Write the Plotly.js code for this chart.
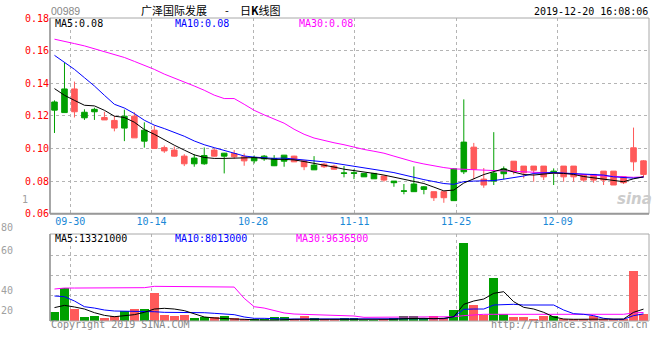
<!DOCTYPE html>
<html><head><meta charset="utf-8">
<script src="https://cdn.plot.ly/plotly-3.0.1.min.js"></script>
<style>html,body{margin:0;padding:0;background:#fff;}#chart{width:660px;height:360px;}</style>
</head><body><div id="chart"></div>
<script>
// ---- data ----
const dates = ['09-26','09-27','09-30','10-02','10-03','10-04','10-08','10-09','10-10','10-11',
'10-14','10-15','10-16','10-17','10-18','10-21','10-22','10-23','10-24','10-25',
'10-28','10-29','10-30','10-31','11-01','11-04','11-05','11-06','11-07','11-08',
'11-11','11-12','11-13','11-14','11-15','11-18','11-19','11-20','11-21','11-22',
'11-25','11-26','11-27','11-28','11-29','12-02','12-03','12-04','12-05','12-06',
'12-09','12-10','12-11','12-12','12-13','12-16','12-17','12-18','12-19','12-20'];
const tickDates = ['09-30','10-14','10-28','11-11','11-25','12-09'];
const open = [0.1285,0.1365,0.1225,0.1222,0.1240,0.1175,0.1125,0.1198,0.1065,0.1112,
0.1000,0.0985,0.0953,0.0906,0.0941,0.0957,0.0953,0.0971,0.0949,0.0924,
0.0945,0.0953,0.0939,0.0959,0.0918,0.0888,0.0898,0.0888,0.0873,0.0850,
0.0851,0.0847,0.0847,0.0806,0.0800,0.0740,0.0782,0.0765,0.0698,0.0698,
0.0875,0.1039,0.0872,0.0776,0.0849,0.0875,0.0861,0.0851,0.0867,0.0826,
0.0861,0.0826,0.0826,0.0806,0.0806,0.0806,0.0776,0.0790,0.0918,0.0841];
const high = [0.1295,0.1525,0.1410,0.1240,0.1250,0.1225,0.1200,0.1238,0.1222,0.1160,
0.1140,0.1018,0.1012,0.0965,0.0965,0.1006,0.1000,0.0973,0.0990,0.0969,
0.0957,0.0960,0.0959,0.0960,0.0955,0.0926,0.0953,0.0910,0.0900,0.0892,
0.0872,0.0848,0.0848,0.0831,0.0800,0.0782,0.0890,0.0770,0.0735,0.0735,
0.0877,0.1301,0.1034,0.0880,0.1100,0.0890,0.0922,0.0892,0.0892,0.0892,
0.0878,0.0892,0.0892,0.0837,0.0841,0.0861,0.0861,0.0826,0.1128,0.0928];
const low = [0.1095,0.1220,0.1190,0.1175,0.1175,0.1175,0.1105,0.1045,0.1065,0.1005,
0.1000,0.0973,0.0950,0.0892,0.0888,0.0900,0.0950,0.0847,0.0937,0.0894,
0.0908,0.0924,0.0892,0.0888,0.0918,0.0867,0.0869,0.0880,0.0870,0.0823,
0.0812,0.0826,0.0814,0.0796,0.0765,0.0719,0.0735,0.0719,0.0678,0.0667,
0.0680,0.0843,0.0810,0.0759,0.0776,0.0810,0.0841,0.0817,0.0796,0.0806,
0.0776,0.0796,0.0796,0.0796,0.0790,0.0776,0.0776,0.0782,0.0863,0.0823];
const close = [0.1235,0.1220,0.1365,0.1188,0.1225,0.1190,0.1172,0.1125,0.1198,0.1045,
0.1112,0.1005,0.0990,0.0953,0.0906,0.0906,0.0990,0.0953,0.0969,0.0949,
0.0924,0.0936,0.0894,0.0922,0.0953,0.0924,0.0869,0.0904,0.0892,0.0848,
0.0848,0.0826,0.0814,0.0831,0.0790,0.0738,0.0735,0.0749,0.0735,0.0735,
0.0680,0.0857,0.1008,0.0812,0.0800,0.0845,0.0922,0.0892,0.0892,0.0892,
0.0850,0.0892,0.0892,0.0837,0.0841,0.0861,0.0861,0.0826,0.1004,0.0924];
const ma5 = [0.1367,0.1326,0.1295,0.1265,0.1261,0.1234,0.1198,0.1190,0.1161,0.1116,
0.1087,0.1051,0.1020,0.0990,0.0961,0.0945,0.0939,0.0939,0.0941,0.0945,
0.0944,0.0939,0.0933,0.0933,0.0930,0.0920,0.0910,0.0900,0.0886,0.0873,
0.0865,0.0858,0.0847,0.0837,0.0824,0.0810,0.0797,0.0785,0.0763,0.0740,
0.0745,0.0788,0.0814,0.0840,0.0858,0.0875,0.0855,0.0840,0.0837,0.0843,
0.0849,0.0847,0.0841,0.0828,0.0821,0.0812,0.0806,0.0796,0.0814,0.0826];
const ma10 = [0.1571,0.1526,0.1485,0.1434,0.1383,0.1326,0.1271,0.1248,0.1214,0.1173,
0.1143,0.1122,0.1100,0.1075,0.1046,0.1023,0.1005,0.0988,0.0971,0.0954,
0.0947,0.0941,0.0939,0.0941,0.0936,0.0931,0.0925,0.0918,0.0910,0.0901,
0.0893,0.0884,0.0872,0.0862,0.0852,0.0837,0.0821,0.0809,0.0797,0.0785,
0.0780,0.0797,0.0800,0.0800,0.0803,0.0812,0.0820,0.0831,0.0847,0.0852,
0.0853,0.0849,0.0847,0.0841,0.0841,0.0837,0.0826,0.0824,0.0818,0.0824];
const ma30 = [0.1670,0.1658,0.1643,0.1629,0.1612,0.1595,0.1579,0.1558,0.1534,0.1511,
0.1485,0.1456,0.1433,0.1409,0.1383,0.1357,0.1327,0.1306,0.1306,0.1271,
0.1234,0.1206,0.1179,0.1155,0.1118,0.1087,0.1064,0.1048,0.1035,0.1023,
0.1008,0.0994,0.0983,0.0971,0.0953,0.0935,0.0918,0.0905,0.0893,0.0883,
0.0875,0.0872,0.0872,0.0870,0.0866,0.0864,0.0860,0.0856,0.0853,0.0851,
0.0849,0.0847,0.0845,0.0840,0.0837,0.0832,0.0828,0.0823,0.0823,0.0826];
// volume, millions of shares
const volume = [10.1,36.6,13.8,4.5,6.0,3.4,6.0,11.2,13.4,13.4,
31.3,6.7,6.0,6.7,3.4,4.5,4.5,5.6,3.4,1.9,
1.9,1.9,4.5,4.5,2.6,5.6,3.0,2.6,2.2,3.0,
3.0,1.1,1.5,1.9,3.0,5.6,5.6,3.0,5.6,3.7,
12.3,87.7,17.9,6.7,48.1,7.5,4.5,4.5,2.2,5.6,
5.6,2.6,2.6,1.9,5.6,2.6,1.9,1.9,56.3,7.5];
const vma5 = [15.0,17.5,15.7,13.4,9.3,6.3,4.8,5.6,7.1,9.7,
13.4,14.2,13.4,11.6,8.2,4.5,3.4,2.6,2.2,1.9,
1.1,0.8,0.8,1.5,1.9,1.9,1.9,1.5,1.1,1.1,
1.9,1.1,1.1,1.1,1.9,2.6,3.0,3.0,2.6,3.0,
4.8,18.7,22.4,24.6,31.0,32.8,21.6,15.3,13.4,9.7,
4.5,2.2,1.9,1.9,1.9,1.9,1.9,2.2,9.7,13.3];
const vma10 = [28.0,27.2,22.4,16.0,14.5,12.3,11.2,11.2,11.2,11.2,
10.4,9.7,9.7,9.7,9.7,9.3,8.6,8.2,7.1,4.5,
3.0,3.0,2.2,2.2,2.2,2.2,2.2,1.9,1.9,1.9,
1.9,1.9,1.9,1.9,2.2,2.2,2.6,2.6,2.6,2.6,
4.8,13.1,13.4,13.4,17.9,18.7,18.7,17.9,17.9,17.9,
17.9,12.3,8.2,7.5,6.0,3.0,1.9,1.9,6.0,8.0];
const vma30 = [35.8,36.9,36.9,36.9,36.9,36.9,36.9,36.9,37.3,37.3,
38.8,38.8,38.8,38.8,38.8,38.8,38.8,38.8,38.0,25.4,
16.0,14.5,11.6,9.0,7.8,7.5,7.1,6.7,6.3,6.3,
5.6,4.1,4.1,4.1,4.1,4.1,4.1,4.1,4.1,4.1,
4.8,6.0,7.1,7.5,7.5,7.5,7.5,7.5,7.5,7.5,
7.5,7.5,7.5,7.5,7.5,7.5,7.5,7.5,9.0,9.6];
const priceTicks = [0.06,0.08,0.10,0.12,0.14,0.16,0.18];
const volLabels = ['80','60','40','20'];

// ---- drawing ----
const RED = '#ff5a5a', GREEN = '#00a000', GRID = '#b4b4b4', BORDER = '#a8a8a8';
const MONO = 'DejaVu Sans Mono';
const idx = dates.map((d, i) => i);
const tickIdx = tickDates.map(d => dates.indexOf(d));
const tickPos = tickIdx.map(i => i * 60 / 59 - 0.45);
const volColors = idx.map(i => close[i] >= open[i] ? RED : GREEN);

const L = 50, R = 649, T = 18, B = 321;
const fx = px => (px - L) / (R - L);
const fy = py => (B - py) / (B - T);
const priceDom = [fy(213.7), 1];
const volDom = [0, fy(234)];

const traces = [
  {type:'candlestick', x: idx, open: open, high: high, low: low, close: close,
   xaxis:'x', yaxis:'y', whiskerwidth: 0, hoverinfo:'skip',
   increasing:{line:{color:RED, width:1}, fillcolor:RED},
   decreasing:{line:{color:GREEN, width:1}, fillcolor:GREEN}},
  {type:'scatter', mode:'lines', x: idx, y: ma30, xaxis:'x', yaxis:'y', line:{color:'#ff00ff', width:1}, hoverinfo:'skip'},
  {type:'scatter', mode:'lines', x: idx, y: ma10, xaxis:'x', yaxis:'y', line:{color:'#0000ff', width:1}, hoverinfo:'skip'},
  {type:'scatter', mode:'lines', x: idx, y: ma5, xaxis:'x', yaxis:'y', line:{color:'#000000', width:1}, hoverinfo:'skip'},
  {type:'bar', x: idx, y: volume, xaxis:'x2', yaxis:'y2', width: 0.9, marker:{color: volColors, line:{width:0}}, hoverinfo:'skip'},
  {type:'scatter', mode:'lines', x: idx, y: vma30, xaxis:'x2', yaxis:'y2', line:{color:'#ff00ff', width:1}, hoverinfo:'skip'},
  {type:'scatter', mode:'lines', x: idx, y: vma10, xaxis:'x2', yaxis:'y2', line:{color:'#0000ff', width:1}, hoverinfo:'skip'},
  {type:'scatter', mode:'lines', x: idx, y: vma5, xaxis:'x2', yaxis:'y2', line:{color:'#000000', width:1}, hoverinfo:'skip'}
];

function ann(text, px, py, color, size, xanchor, family) {
  return {text: text, x: fx(px), y: fy(py), xref:'paper', yref:'paper', showarrow:false,
    xanchor: xanchor || 'left', yanchor:'middle', borderpad:0,
    font:{family: family || MONO, size: size || 10, color: color || '#000'}};
}

const volLabelY = [227, 250.5, 290.3, 310.3];
const xr = [-0.45, 59.55];
const layout = {
  width: 660, height: 360,
  margin:{l:L, r:660 - R, t:T, b:360 - B, pad:0},
  paper_bgcolor:'#fff', plot_bgcolor:'#fff',
  showlegend:false, boxgap:0.2, bargap:0,
  xaxis:{domain:[0,1], anchor:'y', range:xr, type:'linear', rangeslider:{visible:false},
    tickmode:'array', tickvals: tickPos, ticktext: tickDates, ticks:'',
    tickfont:{family:MONO, size:10, color:'#1a88d6'},
    showgrid:true, gridcolor:GRID, griddash:'dot', gridwidth:1, zeroline:false, showline:false, fixedrange:true},
  yaxis:{domain:priceDom, anchor:'x', range:[0.06, 0.18], tickmode:'array', tickvals: priceTicks,
    ticktext: priceTicks.map(v => v.toFixed(2)), ticks:'',
    tickfont:{family:MONO, size:10, color:'#ff0000'},
    showgrid:true, gridcolor:GRID, griddash:'dot', gridwidth:1, zeroline:false, showline:false, fixedrange:true},
  xaxis2:{domain:[0,1], anchor:'y2', range:xr, type:'linear', tickmode:'array', tickvals: tickPos,
    showticklabels:false, ticks:'', showgrid:true, gridcolor:GRID, griddash:'dot', gridwidth:1,
    zeroline:false, showline:false, fixedrange:true},
  yaxis2:{domain:volDom, anchor:'x2', range:[0, 97.4], tickmode:'array', tickvals:[28.8, 51.2, 73.6],
    showticklabels:false, ticks:'', showgrid:true, gridcolor:GRID, griddash:'dot', gridwidth:1,
    zeroline:false, showline:false, fixedrange:true},
  shapes:[
    {type:'rect', xref:'paper', yref:'paper', x0:0, x1:1, y0:priceDom[0], y1:1, line:{color:BORDER, width:1}},
    {type:'line', xref:'paper', yref:'paper', x0:0, x1:1, y0:priceDom[0], y1:priceDom[0], line:{color:'#999', width:2}},
    {type:'line', xref:'paper', yref:'paper', x0:0, x1:0, y0:priceDom[0], y1:1, line:{color:'#999', width:1.5}},
    {type:'rect', xref:'paper', yref:'paper', x0:0, x1:1, y0:0, y1:volDom[1], line:{color:BORDER, width:1}},
    {type:'line', xref:'paper', yref:'paper', x0:0, x1:0, y0:0, y1:volDom[1], line:{color:'#999', width:1.5}}
  ],
  annotations:[
    ann('00989', 50, 11, '#888', 10.5, 'left', 'Liberation Sans'),
    ann('广泽国际发展', 140, 10.5, '#000', 11, 'left', 'Noto Sans CJK SC'),
    ann('-', 224, 10.5, '#000', 11, 'left', 'Noto Sans CJK SC'),
    ann('日<b>K</b>线图', 239, 10.5, '#000', 11, 'left', 'Noto Sans CJK SC'),
    ann('2019-12-20 16:08:06', 648.5, 11.5, '#000', 10, 'right'),
    ann('MA5:0.08', 54, 23.7, '#000', 10),
    ann('MA10:0.08', 174.3, 23.7, '#0000ff', 10),
    ann('MA30:0.08', 297.7, 23.7, '#ff00ff', 10),
    ann('MA5:13321000', 54.3, 238.5, '#000', 10),
    ann('MA10:8013000', 174.3, 238.5, '#0000ff', 10),
    ann('MA30:9636500', 295, 238.5, '#ff00ff', 10),
    ann('Copyright 2019 SINA.COM', 50, 324.5, '#888', 10),
    ann('http://finance.sina.com.cn', 649, 324.5, '#888', 10, 'right'),
    ann('1', 25, 200, '#a0a0a0', 10, 'center'),
    ann('<b><i>sina</i></b>', 634, 199, '#cccccc', 15, 'center', 'DejaVu Sans')
  ].concat(volLabels.map((t, k) => ann(t, 14, volLabelY[k], '#a0a0a0', 10, 'right')))
};

Plotly.newPlot('chart', traces, layout, {staticPlot:true, displayModeBar:false});
</script>
</body></html>
